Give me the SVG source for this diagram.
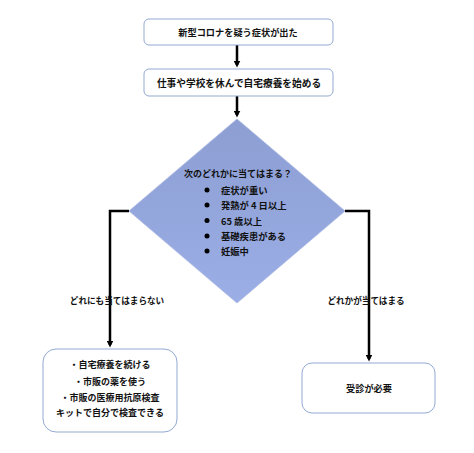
<svg xmlns="http://www.w3.org/2000/svg" width="474" height="453" viewBox="0 0 474 453">
<style>
.box{fill:#fff;stroke:#93A9D2;stroke-width:1}
.t{font-family:"Noto Sans CJK JP","Liberation Sans",sans-serif;font-weight:bold;fill:#111;text-anchor:middle;dominant-baseline:central}
.l{font-family:"Noto Sans CJK JP","Liberation Sans",sans-serif;font-weight:bold;fill:#111;dominant-baseline:central}
.c{fill:none;stroke:#000;stroke-width:2.5}
</style>
<defs>
<marker id="ah" markerWidth="7" markerHeight="7" refX="4.5" refY="3.5" orient="auto" markerUnits="userSpaceOnUse" viewBox="0 0 7 7">
<path d="M0,0 L7,3.5 L0,7 Z" fill="#000"/>
</marker>
<linearGradient id="dg" x1="0" y1="0" x2="0" y2="1">
<stop offset="0" stop-color="#8C9ED2"/>
<stop offset="1" stop-color="#9BAEE6"/>
</linearGradient>
</defs>
<rect width="474" height="453" fill="#fff"/>
<g id="connectors">
<line class="c" x1="237" y1="45" x2="237" y2="65" marker-end="url(#ah)"/>
<line class="c" x1="237" y1="96" x2="237" y2="115" marker-end="url(#ah)"/>
<path class="c" d="M129,211 H110 V345" marker-end="url(#ah)"/>
<path class="c" d="M345,211 H369 V359" marker-end="url(#ah)"/>
</g>
<g id="n1">
<rect class="box" x="144" y="19" width="189" height="26" rx="5"/>
<text class="t" x="238" y="32" font-size="9.2">新型コロナを疑う症状が出た</text>
</g>
<g id="n2">
<rect class="box" x="144" y="69" width="189" height="27" rx="5"/>
<text class="t" x="239" y="82.5" font-size="9.7">仕事や学校を休んで自宅療養を始める</text>
</g>
<g id="decision">
<polygon points="237,119 345,211 237,303 129,211" fill="url(#dg)" stroke="#A9B8E2" stroke-width="0.8"/>
<text class="t" x="238" y="173" font-size="9">次のどれかに当てはまる？</text>
<circle cx="207" cy="190" r="2.5" fill="#000"/><text class="l" x="221" y="190" font-size="9.3">症状が重い</text>
<circle cx="207" cy="205" r="2.5" fill="#000"/><text class="l" x="221" y="205" font-size="9.3">発熱が 4 日以上</text>
<circle cx="207" cy="220.5" r="2.5" fill="#000"/><text class="l" x="221" y="220.5" font-size="9.3">65 歳以上</text>
<circle cx="207" cy="236" r="2.5" fill="#000"/><text class="l" x="221" y="236" font-size="9.3">基礎疾患がある</text>
<circle cx="207" cy="251" r="2.5" fill="#000"/><text class="l" x="221" y="251" font-size="9.3">妊娠中</text>
</g>
<g id="labels">
<text class="t" x="117" y="300" font-size="8.6">どれにも当てはまらない</text>
<text class="t" x="366" y="300" font-size="8.6">どれかが当てはまる</text>
</g>
<g id="n3">
<rect class="box" x="43" y="349" width="134" height="83" rx="13"/>
<text class="t" x="110" y="364" font-size="9">・自宅療養を続ける</text>
<text class="t" x="110" y="381" font-size="9">・市販の薬を使う</text>
<text class="t" x="110" y="397" font-size="9">・市販の医療用抗原検査</text>
<text class="t" x="110" y="412" font-size="9">キットで自分で検査できる</text>
</g>
<g id="n4">
<rect class="box" x="302" y="363" width="133" height="50" rx="10"/>
<text class="t" x="369" y="388" font-size="9.2">受診が必要</text>
</g>
</svg>
